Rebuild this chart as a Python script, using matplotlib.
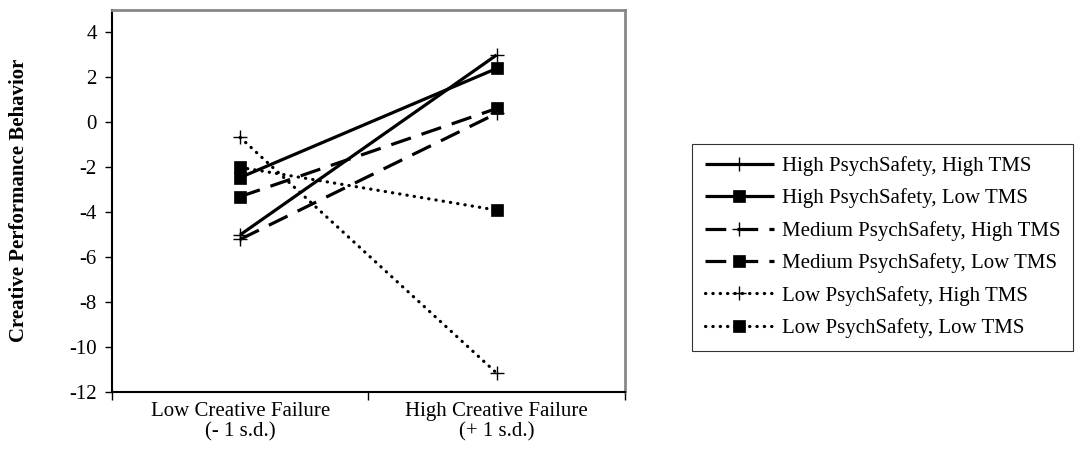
import matplotlib
matplotlib.use("Agg")
import matplotlib.pyplot as plt

plt.rcParams['font.family'] = ['Liberation Serif', 'DejaVu Serif']

categories = ["Low Creative Failure\n(- 1 s.d.)", "High Creative Failure\n(+ 1 s.d.)"]
series_names = [
    "High PsychSafety, High TMS",
    "High PsychSafety, Low TMS",
    "Medium PsychSafety, High TMS",
    "Medium PsychSafety, Low TMS",
    "Low PsychSafety, High TMS",
    "Low PsychSafety, Low TMS",
]
high_high = [-5.0, 3.0]
high_low = [-2.45, 2.4]
med_high = [-5.2, 0.4]
med_low = [-3.3, 0.62]
low_high = [-0.67, -11.15]
low_low = [-2.0, -3.9]
series_values = [high_high, high_low, med_high, med_low, low_high, low_low]
y_ticks = [-12, -10, -8, -6, -4, -2, 0, 2, 4]

FS = 15

dashed = (0, (6.5, 3.5))
dotted = (0, (0.1, 2.2))
styles = [
    dict(ls='-', marker='+'),
    dict(ls='-', marker='s'),
    dict(ls=dashed, marker='+'),
    dict(ls=dashed, marker='s'),
    dict(ls=dotted, marker='+'),
    dict(ls=dotted, marker='s'),
]

fig = plt.figure(figsize=(10.82, 4.55), dpi=100)
ax = fig.add_axes([0.1035, 0.138, 0.474, 0.84])

x = list(range(len(categories)))
for name, vals, st in zip(series_names, series_values, styles):
    is_plus = st['marker'] == '+'
    ax.plot(x, vals, color='black', lw=2.3, linestyle=st['ls'],
            marker=st['marker'], markersize=10 if is_plus else 8,
            markeredgewidth=1.0 if is_plus else 0.5,
            markerfacecolor='black', markeredgecolor='black',
            dash_capstyle='round' if st['ls'] == dotted else 'butt',
            solid_capstyle='butt', label=name)

ax.set_xlim(-0.5, 1.5)
ax.set_ylim(-12, 5)
ax.set_yticks(y_ticks)
ax.set_yticklabels([str(t) for t in y_ticks], fontsize=FS)
ax.set_xticks([-0.5, 0.5, 1.5])
ax.set_xticklabels([])
ax.set_xticks(x, minor=True)
ax.set_xticklabels(categories, minor=True, fontsize=FS, linespacing=1.1)
ax.tick_params(axis='x', which='minor', length=0, pad=7)
ax.tick_params(axis='x', which='major', length=6, direction='out', width=1)
ax.tick_params(axis='y', length=5, direction='out', width=1, pad=6)

for s in ['left', 'bottom']:
    ax.spines[s].set_color('black')
    ax.spines[s].set_linewidth(1.5)
for s in ['top', 'right']:
    ax.spines[s].set_color('#888888')
    ax.spines[s].set_linewidth(2)

fig.text(0.018, 0.56, "Creative Performance Behavior", rotation=90,
         fontsize=FS, fontweight='bold', ha='center', va='center')

leg = fig.legend(loc='center left', bbox_to_anchor=(0.64, 0.457),
                 fontsize=FS, frameon=True, fancybox=False, shadow=False,
                 handlelength=3.3, labelspacing=0.6, borderpad=0.6,
                 handletextpad=0.4, borderaxespad=0)
leg.get_frame().set_edgecolor('black')
leg.get_frame().set_linewidth(0.8)

fig.savefig("out.png", dpi=100)
